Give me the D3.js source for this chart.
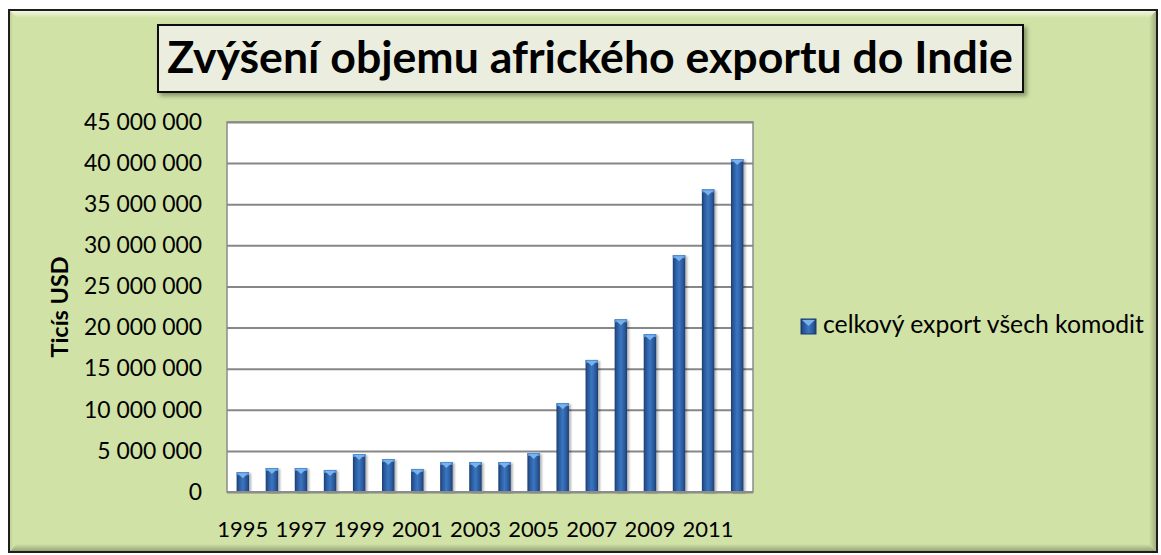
<!DOCTYPE html>
<html>
<head>
<meta charset="utf-8">
<script src="https://cdn.jsdelivr.net/npm/d3@7"></script>
<style>
  html, body { margin: 0; padding: 0; background: #ffffff; }
  svg { display: block; }
</style>
</head>
<body>
<svg id="chart" width="1161" height="555"></svg>
<script>
// ---- data ----
const years = ["1995","1996","1997","1998","1999","2000","2001","2002","2003","2004","2005","2006","2007","2008","2009","2010","2011","2012"];
const exportValues = [2400000, 2920000, 2920000, 2680000, 4620000, 4010000, 2800000, 3650000, 3650000, 3650000, 4740000, 10800000, 16060000, 21000000, 19200000, 28800000, 36800000, 40500000];
const yTicks = [0, 5000000, 10000000, 15000000, 20000000, 25000000, 30000000, 35000000, 40000000, 45000000];
const xTickLabels = ["1995","1997","1999","2001","2003","2005","2007","2009","2011"];
const seriesName = "celkový export všech komodit";
const titleText = "Zvýšení objemu afrického exportu do Indie";
const yAxisTitle = "Ticís USD";

// ---- setup ----
const svg = d3.select("#chart");
const FONT = "Lato, 'Open Sans', sans-serif";
const defs = svg.append("defs");

function fitText(sel, target) {
  const n = sel.node();
  const fs = parseFloat(sel.attr("font-size"));
  const w = n.getComputedTextLength();
  if (w > 0) sel.attr("font-size", (fs * target / w).toFixed(2));
  return sel;
}

// gradients
function linGrad(id, x1, y1, x2, y2, stops) {
  const g = defs.append("linearGradient").attr("id", id)
    .attr("x1", x1).attr("y1", y1).attr("x2", x2).attr("y2", y2);
  stops.forEach(s => g.append("stop").attr("offset", s[0]).attr("stop-color", s[1]));
}
linGrad("barGrad", "0", "0", "1", "0", [["0%", "#1b3c70"], ["18%", "#2a5898"], ["50%", "#3a76c3"], ["82%", "#2a5898"], ["100%", "#1b3c70"]]);
linGrad("topBevel", "0", "0", "0", "1", [["0%", "#f7fae9"], ["100%", "#d1e2a6"]]);
linGrad("botBevel", "0", "0", "0", "1", [["0%", "#d1e2a6"], ["100%", "#8f9c70"]]);
linGrad("rightBevel", "0", "0", "1", "0", [["0%", "#d1e2a6"], ["100%", "#9aa87a"]]);
linGrad("leftBevel", "0", "0", "1", "0", [["0%", "#b9c991"], ["100%", "#d1e2a6"]]);

const shadow = defs.append("filter").attr("id", "shadow").attr("x", "-10%").attr("y", "-10%").attr("width", "130%").attr("height", "140%");
shadow.append("feDropShadow").attr("dx", 3).attr("dy", 3).attr("stdDeviation", 2).attr("flood-color", "#000").attr("flood-opacity", 0.35);
const barShadow = defs.append("filter").attr("id", "barShadow").attr("x", "-30%").attr("y", "-5%").attr("width", "180%").attr("height", "110%");
barShadow.append("feDropShadow").attr("dx", 2).attr("dy", 1).attr("stdDeviation", 1.2).attr("flood-color", "#000").attr("flood-opacity", 0.3);

// ---- frame ----
const F = { x0: 9, y0: 10, x1: 1157, y1: 552, b: 8 };
svg.append("rect").attr("x", F.x0).attr("y", F.y0).attr("width", F.x1 - F.x0).attr("height", F.y1 - F.y0)
  .attr("fill", "#d1e2a6");
svg.append("polygon").attr("points", [[F.x0, F.y0], [F.x1, F.y0], [F.x1 - F.b, F.y0 + F.b], [F.x0 + F.b, F.y0 + F.b]].join(" ")).attr("fill", "url(#topBevel)");
svg.append("polygon").attr("points", [[F.x0, F.y1], [F.x1, F.y1], [F.x1 - F.b, F.y1 - F.b], [F.x0 + F.b, F.y1 - F.b]].join(" ")).attr("fill", "url(#botBevel)");
svg.append("polygon").attr("points", [[F.x1, F.y0], [F.x1, F.y1], [F.x1 - F.b, F.y1 - F.b], [F.x1 - F.b, F.y0 + F.b]].join(" ")).attr("fill", "url(#rightBevel)");
svg.append("polygon").attr("points", [[F.x0, F.y0], [F.x0, F.y1], [F.x0 + 4, F.y1 - 4], [F.x0 + 4, F.y0 + 4]].join(" ")).attr("fill", "url(#leftBevel)");
svg.append("rect").attr("x", F.x0).attr("y", F.y0).attr("width", F.x1 - F.x0).attr("height", F.y1 - F.y0)
  .attr("fill", "none").attr("stroke", "#1e1e1e").attr("stroke-width", 2);

// ---- plot area ----
const P = { left: 227, right: 753, top: 122, bottom: 492 };
svg.append("rect").attr("x", P.left).attr("y", P.top).attr("width", P.right - P.left).attr("height", P.bottom - P.top)
  .attr("fill", "#ffffff").attr("stroke", "#8c8c8c").attr("stroke-width", 1.5);

const x = d3.scaleBand().domain(years).range([P.left, P.right]).paddingInner(0.572).paddingOuter(0.33);
const y = d3.scaleLinear().domain([0, 45000000]).range([P.bottom, P.top]);
const locale = d3.formatLocale({ decimal: ",", thousands: " ", grouping: [3], currency: ["", ""] });
const fmt = locale.format(",d");

// gridlines
const grid = svg.append("g").attr("transform", `translate(${P.left},0)`)
  .call(d3.axisLeft(y).tickValues(yTicks).tickSize(-(P.right - P.left)).tickFormat(""));
grid.select(".domain").remove();
grid.selectAll(".tick line").attr("stroke", "#878787").attr("stroke-width", 2);

// y axis labels
const yAx = svg.append("g").attr("transform", `translate(${P.left},0)`)
  .call(d3.axisLeft(y).tickValues(yTicks).tickSize(0).tickPadding(25).tickFormat(fmt));
yAx.select(".domain").remove();
yAx.selectAll("text").attr("font-family", FONT).attr("font-size", 22).attr("fill", "#000");
{
  const top = yAx.selectAll("text").filter(d => d === 45000000);
  const w0 = top.node().getComputedTextLength();
  const fs = 22 * 118 / w0;
  yAx.selectAll("text").attr("font-size", fs.toFixed(2));
}

// bars
const bars = svg.append("g");
const bw = x.bandwidth();
years.forEach((yr, i) => {
  const v = exportValues[i];
  const bx = x(yr), by = y(v), bh = y(0) - y(v);
  const g = bars.append("g");
  g.append("rect").attr("x", bx).attr("y", by).attr("width", bw).attr("height", bh)
    .attr("fill", "url(#barGrad)").attr("filter", "url(#barShadow)");
  g.append("rect").attr("x", bx).attr("y", by).attr("width", bw).attr("height", 3)
    .attr("fill", "#4f8fd8");
  g.append("polygon")
    .attr("points", [[bx + 1, by + 1], [bx + bw - 1, by + 1], [bx + bw / 2, by + 6]].join(" "))
    .attr("fill", "#7ab3ea");
});

// bottom axis line
svg.append("line").attr("x1", P.left).attr("x2", P.right).attr("y1", P.bottom).attr("y2", P.bottom)
  .attr("stroke", "#8c8c8c").attr("stroke-width", 2);

// x axis labels
const xAx = svg.append("g").attr("transform", `translate(0,${P.bottom})`)
  .call(d3.axisBottom(x).tickValues(xTickLabels).tickSize(0).tickPadding(0));
xAx.select(".domain").remove();
xAx.selectAll("text").attr("font-family", FONT).attr("font-size", 22).attr("fill", "#000")
  .attr("dy", null).attr("y", 44.5);
{
  const t = xAx.selectAll("text").filter(d => d === "1995");
  const w0 = t.node().getComputedTextLength();
  xAx.selectAll("text").attr("font-size", (22 * 51 / w0).toFixed(2));
}

// y axis title
const yt = svg.append("text").attr("transform", "translate(68,307) rotate(-90)")
  .attr("text-anchor", "middle").attr("font-family", FONT).attr("font-weight", "bold")
  .attr("font-size", 22).attr("fill", "#000").text(yAxisTitle);
fitText(yt, 101);

// ---- title ----
svg.append("rect").attr("x", 158).attr("y", 25).attr("width", 865).attr("height", 67)
  .attr("fill", "#ebeedf").attr("stroke", "#111").attr("stroke-width", 2).attr("filter", "url(#shadow)");
const tt = svg.append("text").attr("x", 590).attr("y", 73).attr("text-anchor", "middle")
  .attr("font-family", FONT).attr("font-weight", "bold").attr("font-size", 40).attr("fill", "#000").text(titleText);
fitText(tt, 846);

// ---- legend ----
const lg = svg.append("g");
lg.append("rect").attr("x", 801).attr("y", 319).attr("width", 15).attr("height", 15).attr("fill", "url(#barGrad)");
lg.append("rect").attr("x", 801).attr("y", 319).attr("width", 15).attr("height", 15).attr("fill", "none").attr("stroke", "#1b3c70").attr("stroke-width", 1);
lg.append("polygon").attr("points", [[802, 320], [815, 320], [808.5, 326]].join(" ")).attr("fill", "#7ab3ea");
const lt = lg.append("text").attr("x", 823).attr("y", 333).attr("font-family", FONT)
  .attr("font-size", 22).attr("fill", "#000").text(seriesName);
fitText(lt, 321);
</script>
</body>
</html>
